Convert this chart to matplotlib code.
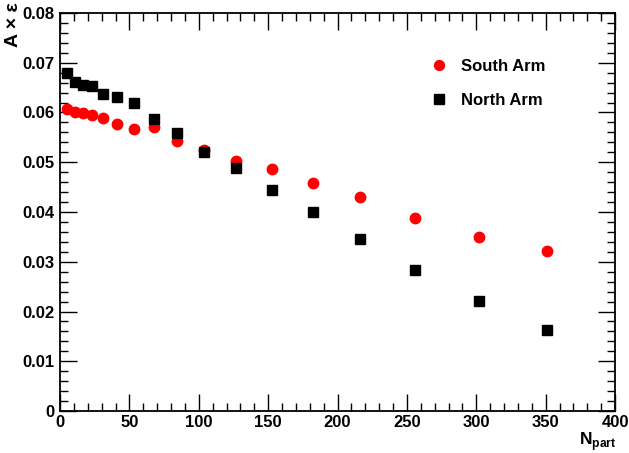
import numpy as np
import matplotlib.pyplot as plt
from matplotlib.ticker import MultipleLocator

plt.rcParams['font.family'] = ['Liberation Sans', 'DejaVu Sans']
plt.rcParams['mathtext.fontset'] = 'custom'
plt.rcParams['mathtext.rm'] = 'Liberation Sans'
plt.rcParams['mathtext.bf'] = 'Liberation Sans:bold'

# data
npart = [5.0, 10.8, 16.6, 23.0, 31.0, 41.0, 53.0, 68.0, 84.5, 104.0,
         126.5, 152.5, 182.0, 216.0, 256.0, 302.0, 351.0]
south_arm = [0.0607, 0.0601, 0.0599, 0.0595, 0.0589, 0.0577, 0.0567, 0.0571, 0.0543,
             0.0525, 0.0503, 0.0486, 0.0458, 0.0430, 0.0388, 0.0350, 0.0322]
north_arm = [0.0679, 0.0661, 0.0655, 0.0653, 0.0637, 0.0631, 0.0619, 0.0587, 0.0559,
             0.0521, 0.0488, 0.0444, 0.0400, 0.0346, 0.0283, 0.0221, 0.0163]

W, H = 629, 453
fig = plt.figure(figsize=(W / 100, H / 100), dpi=100)
ax = fig.add_axes([60 / W, (H - 411) / H, 555 / W, 398 / H])

ax.plot(npart, south_arm, 'o', color='#ff0000', ms=7.5, mec='#ff0000', label='South Arm', zorder=3)
ax.plot(npart, north_arm, 's', color='black', ms=7.2, label='North Arm', zorder=4)

ax.set_xlim(0, 400)
ax.set_ylim(0, 0.08)
ax.xaxis.set_major_locator(MultipleLocator(50))
ax.xaxis.set_minor_locator(MultipleLocator(10))
ax.yaxis.set_major_locator(MultipleLocator(0.01))
ax.yaxis.set_minor_locator(MultipleLocator(0.002))
ax.set_yticks(np.arange(0, 0.081, 0.01))
ax.set_yticklabels(['0', '0.01', '0.02', '0.03', '0.04', '0.05', '0.06', '0.07', '0.08'])

ax.tick_params(which='both', direction='in', top=True, right=True, width=1.0)
ax.tick_params(which='major', length=12)
ax.tick_params(which='minor', length=6)
ax.tick_params(axis='x', pad=3)
ax.tick_params(axis='y', pad=4)
for lab in ax.get_xticklabels() + ax.get_yticklabels():
    lab.set_fontsize(12)
    lab.set_fontweight('bold')
for sp in ax.spines.values():
    sp.set_linewidth(1.3)

leg = ax.legend(loc='upper left', bbox_to_anchor=(0.626, 0.922), frameon=False,
                prop={'size': 12, 'weight': 'bold'}, handletextpad=0.3,
                labelspacing=1.15, markerscale=0.95)

fig.text(14 / W, 1 - 2 / H, 'A \u00d7 \u03b5', rotation=90, ha='center', va='top',
         fontsize=14, fontweight='bold')
fig.text(616 / W, 1 - 453 / H, r'$\mathbf{N}_{\mathbf{part}}$', ha='right', va='bottom',
         fontsize=12.5)

plt.savefig('out.png', dpi=100)
